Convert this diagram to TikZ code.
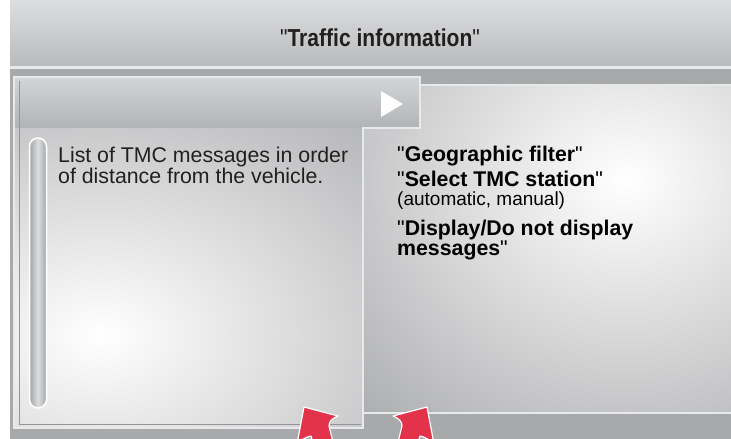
\documentclass[tikz,border=0pt]{standalone}
\usepackage{fontspec}
\newfontfamily\sans{Liberation Sans}
\newfontfamily\titlefont[FakeStretch=0.86]{Liberation Sans}
\definecolor{bggrey}{HTML}{A8A9AB}
\definecolor{panelgrey}{HTML}{A9AAAC}
\definecolor{linewhite}{HTML}{E8E9EA}
\definecolor{hdrtop}{HTML}{E3E4E5}
\definecolor{hdrbot}{HTML}{A8A9AB}
\definecolor{arrowred}{HTML}{E2334B}
\definecolor{txt}{HTML}{231F20}
\definecolor{sbdark}{HTML}{A4A5A7}
\definecolor{sblight}{HTML}{DCDDDE}
\pgfdeclareverticalshading{titlesh}{100bp}{color(0bp)=(hdrbot); color(84bp)=(hdrtop); color(100bp)=(white)}
\pgfdeclareverticalshading{hdrsh}{100bp}{color(0bp)=(hdrbot); color(20bp)=(hdrbot!92!white); color(100bp)=(hdrtop)}
\newcommand\redarrowpath{(304,407) -- (338,416) .. controls (331,419) and (329,422) .. (329,426) -- (334,446) -- (314,446) -- (311,436) .. controls (306,437) and (301,440) .. (297,444) -- cycle}
\tikzset{
  whiteline/.style={draw=linewhite, line width=2.5pt},
  redarrow/.style={fill=arrowred, draw=white, line width=1.2pt, line join=round},
  bodytext/.style={anchor=base west, inner sep=0pt, text=txt, font=\sans\fontsize{21.3}{21}\selectfont},
  menutext/.style={anchor=base west, inner sep=0pt, text=black, font=\sans\fontsize{21.3}{21}\selectfont},
  subtext/.style={anchor=base west, inner sep=0pt, text=black, font=\sans\fontsize{19}{19}\selectfont},
}
\begin{document}
\begin{tikzpicture}[x=1pt,y=-1pt]
\useasboundingbox (0,0) rectangle (731,439);
\clip (0,0) rectangle (731,439);
\fill[white] (0,0) rectangle (731,439);
% title bar
\shade[shading=titlesh] (10,0) rectangle (731,66);
\node[inner sep=0pt, anchor=base, text=txt, font=\titlefont\fontsize{24.5}{24}\selectfont] (title) at (380,46) {"\textbf{Traffic information}"};
% body background
\fill[bggrey] (10,66) rectangle (731,439);
\fill[linewhite] (10,66) rectangle (731,69);
% right panel
\fill[panelgrey] (420,85) -- (731,85) -- (731,413) -- (363,413) -- (363,128) -- (420,128) -- cycle;
\begin{scope}
  \clip (420,85) -- (731,85) -- (731,413) -- (363,413) -- (363,128) -- (420,128) -- cycle;
  \shade[inner color=white, outer color=panelgrey] (625,180) ellipse (400 and 340);
\end{scope}
\draw[whiteline] (420,85) -- (735,85);
\draw[whiteline] (363,413) -- (735,413);
% left panel
\shade[shading=hdrsh] (15,78) rectangle (419,128);
\fill[panelgrey] (15,128) rectangle (362,427);
\begin{scope}
  \clip (15,128) rectangle (362,427);
  \shade[inner color=white, outer color=panelgrey] (100,335) ellipse (470 and 330);
\end{scope}
\draw[sbdark!90!black, line width=0.5pt] (19.5,81) -- (19.5,424.5) -- (361,424.5);
\draw[whiteline] (14,77) -- (420,77) -- (420,128) -- (363,128) -- (363,428) -- (14,428) -- cycle;
% play triangle
\fill[white] (381,91) -- (403,104) -- (381,117) -- cycle;
% scrollbar
\path[draw=white, line width=1.5pt, left color=sbdark, right color=sbdark, middle color=sblight, rounded corners=8.5pt] (29.5,138) rectangle (46.5,408);
% texts
\node[bodytext] (list1) at (58,162) {List of TMC messages in order};
\node[bodytext] (list2) at (58,183) {of distance from the vehicle.};
\node[menutext] (geo) at (397,161) {"\textbf{Geographic filter}"};
\node[menutext] (sel) at (397,186) {"\textbf{Select TMC station}"};
\node[subtext] (auto) at (397,205) {(automatic, manual)};
\node[menutext] (disp1) at (397,235) {"\textbf{Display/Do not display}};
\node[menutext] (disp2) at (397,255) {\textbf{messages}"};
% red arrows
\draw[redarrow] \redarrowpath;
\begin{scope}[shift={(731,0)}, xscale=-1]
  \draw[redarrow] \redarrowpath;
\end{scope}
\end{tikzpicture}
\end{document}
